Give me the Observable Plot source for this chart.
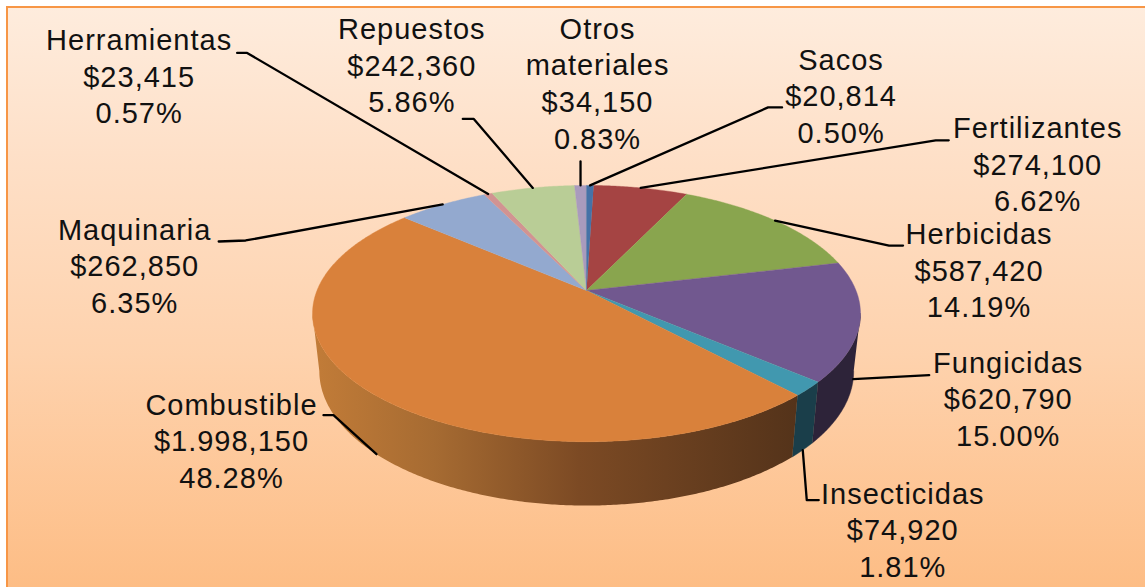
<!DOCTYPE html>
<html>
<head>
<meta charset="utf-8">
<script src="https://cdn.jsdelivr.net/npm/d3@7"></script>
<script src="https://cdn.jsdelivr.net/npm/@observablehq/plot@0.6"></script>
<style>
  html, body { margin: 0; padding: 0; background: #fff; overflow: hidden; }
  #panel { position: absolute; left: 6px; top: 6px; width: 1139px; height: 581px; box-sizing: border-box;
    border-left: 2.5px solid #f79646; border-top: 2.5px solid #f79646;
    background: linear-gradient(180deg, #feecdd 0%, #fee0c8 25%, #fed2ad 60%, #fdbd85 100%); }
  #chart { position: absolute; left: 0; top: 0; }
  #chart svg { display: block; }
</style>
</head>
<body>
<div id="panel"></div>
<div id="chart"></div>
<script>
// ---- chart values, clockwise from the top of the pie ----
const categories = ["Fertilizantes", "Herbicidas", "Fungicidas", "Insecticidas", "Combustible", "Maquinaria", "Herramientas", "Repuestos", "Otros\nmateriales", "Sacos"];
const amounts = ["$274,100", "$587,420", "$620,790", "$74,920", "$1.998,150", "$262,850", "$23,415", "$242,360", "$34,150", "$20,814"];
const percents = [6.62, 14.19, 15.00, 1.81, 48.28, 6.35, 0.57, 5.86, 0.83, 0.50];
const colors = ["#a54443", "#89a54e", "#71588f", "#4198af", "#d9813b", "#93a9cf", "#d19392", "#b9cd96", "#a99bbd", "#4572a7"];
const sideColors = { Fungicidas: "#2d2339", Insecticidas: "#1a3e4a", Combustible: "url(#fuelSide)" };

// ---- layout: pie camera and label placement relative to each slice's rim point ----
const startAngle = 1.76, W = 1145, H = 587;
const top3d = { cx: 586, cy: 290, R: 269.5, b: 124 };
const bot3d = { cx: 586, cy: 346.5, R: 262.8, b: 130 };
const persp = 0.18;
const leaderOff = [ // polyline vertices relative to the rim point
  [[295, -47.6], [308, -47.6]],
  [[114, 25], [128, 25]],
  [[76, -4], [76, -4]],
  [[4, 50], [16, 50]],
  [[-43, -39], [-53, -39]],
  [[-197, 36], [-224, 37]],
  [[-241, -141], [-251, -141]],
  [[-59, -69], [-70, -69]],
  [[0, -24], [0, -24]],
  [[178, -78], [192, -78]]
];
const labelOff = [ // centre of first text line relative to the rim point
  [397, -59], [204, 14], [155, -16], [100, 44], [-145, -49], [-308, 26], [-349, -153], [-121, -158], [17, -156], [251, -125]
];

function rim(theta, c) {
  const t = theta * Math.PI / 180, X = Math.sin(t), Y = Math.cos(t), d = 1 + persp * Y;
  return { x: c.cx + c.R * X / d, y: c.cy - c.b * Y / d };
}
function arc(a0, a1, c) {
  const n = Math.max(2, Math.ceil(Math.abs(a1 - a0) * 2));
  return d3.range(n + 1).map(i => rim(a0 + (a1 - a0) * i / n, c));
}

let acc = startAngle;
const slices = categories.map((name, i) => {
  const a0 = acc, a1 = acc + percents[i] * 3.6;
  acc = a1;
  return { name, i, a0, a1, mid: (a0 + a1) / 2, color: colors[i] };
});

const silhouetteR = 90 + Math.asin(persp) * 180 / Math.PI;
const silhouetteL = 270 - Math.asin(persp) * 180 / Math.PI;

const sideMarks = slices.filter(s => sideColors[s.name]).map(s => {
  const a0 = Math.max(s.a0, silhouetteR), a1 = Math.min(s.a1, silhouetteL);
  const pts = [...arc(a0, a1, top3d), ...arc(a1, a0, bot3d)];
  return Plot.line(pts, { x: "x", y: "y", fill: sideColors[s.name], stroke: sideColors[s.name] === "url(#fuelSide)" ? "none" : sideColors[s.name], strokeWidth: 0.5 });
});

const faceMarks = slices.map(s => {
  const pts = [{ x: top3d.cx, y: top3d.cy }, ...arc(s.a0, s.a1, top3d)];
  return Plot.line(pts, { x: "x", y: "y", fill: s.color, stroke: s.color, strokeWidth: 0.4 });
});

const anchors = slices.map(s => {
  const front = s.mid > silhouetteR && s.mid < silhouetteL;
  return rim(s.mid, front ? bot3d : top3d);
});

const leaderRows = slices.flatMap((s, i) => {
  const a = anchors[i];
  return [a, ...leaderOff[i].map(([dx, dy]) => ({ x: a.x + dx, y: a.y + dy }))].map(p => ({ ...p, name: s.name }));
});

const labelRows = slices.map((s, i) => ({
  x: anchors[i].x + labelOff[i][0],
  y: anchors[i].y + labelOff[i][1],
  text: `${s.name}\n${amounts[i]}\n${percents[i].toFixed(2)}%`
}));

const fuelGradient = () => {
  const defs = d3.create("svg:defs");
  const g = defs.append("linearGradient").attr("id", "fuelSide").attr("x1", 0).attr("x2", 1).attr("y1", 0).attr("y2", 0);
  [[0, "#c27c38"], [0.25, "#a66b32"], [0.55, "#7c4a24"], [1, "#54331a"]].forEach(([o, c]) =>
    g.append("stop").attr("offset", o).attr("stop-color", c));
  return defs.node();
};

const chart = Plot.plot({
  width: W, height: H,
  marginTop: 0, marginRight: 0, marginBottom: 0, marginLeft: 0,
  x: { domain: [0, W], range: [0, W], axis: null },
  y: { domain: [0, H], range: [0, H], axis: null },
  style: { background: "transparent", fontFamily: "'Liberation Sans', Arial, sans-serif", letterSpacing: "1px" },
  marks: [
    fuelGradient,
    ...sideMarks,
    ...faceMarks,
    Plot.line(leaderRows, { x: "x", y: "y", z: "name", stroke: "#000", strokeWidth: 2.3, curve: "linear" }),
    Plot.text(labelRows, { x: "x", y: "y", text: "text", fontSize: 29, lineHeight: 1.26, lineAnchor: "top", dy: -16.5, fill: "#111", textAnchor: "middle" })
  ]
});
document.getElementById("chart").appendChild(chart);
</script>
</body>
</html>
